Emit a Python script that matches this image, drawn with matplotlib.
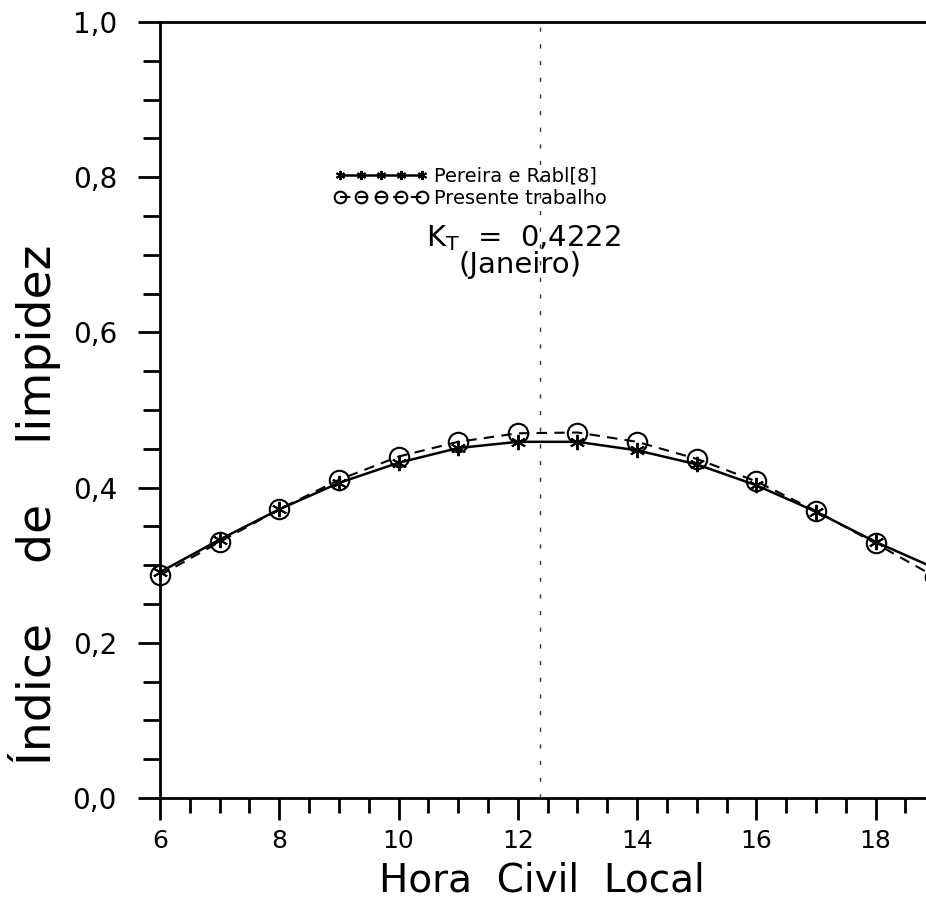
import matplotlib
matplotlib.use('Agg')
import matplotlib.pyplot as plt
from matplotlib.ticker import MultipleLocator, FuncFormatter

# hours (19 is just past the right edge of the picture)
hours = [6, 7, 8, 9, 10, 11, 12, 13, 14, 15, 16, 17, 18, 19]
pereira_rabl = [0.291, 0.333, 0.372, 0.406, 0.432, 0.451, 0.459,
                0.459, 0.448, 0.430, 0.403, 0.369, 0.330, 0.296]
presente = [0.287, 0.330, 0.372, 0.410, 0.440, 0.459, 0.470,
            0.471, 0.459, 0.437, 0.408, 0.370, 0.328, 0.285]

label_pr = 'Pereira e Rabl[8]'
label_pt = 'Presente trabalho'
kt_text = r'K$_\mathregular{T}$  =  0,4222'
month = '(Janeiro)'

plt.rcParams['font.family'] = ['DejaVu Sans']
plt.rcParams['mathtext.default'] = 'regular'

fig = plt.figure(figsize=(9.26, 9.0), dpi=100)
ax = fig.add_axes([160 / 926, 1 - 798 / 900, 1 - 160 / 926, 776 / 900])

ax.plot(hours, pereira_rabl, color='black', lw=1.8, marker=(6, 2, 0),
        ms=11, mew=1.4, label=label_pr, clip_on=False)
ax.plot(hours, presente, color='black', lw=1.5, ls=(0, (5, 3.5)),
        marker='o', ms=14, mfc='none', mew=1.5, label=label_pt, clip_on=False)

# fold mark from the scanned page
ax.axvline(12.37, color='0.2', lw=1.0, ls=(0, (3, 9)))

ax.set_xlim(6, 6 + (926 - 161.7) / 59.5)
ax.set_ylim(0, 1.0)

ax.xaxis.set_major_locator(MultipleLocator(2))
ax.xaxis.set_minor_locator(MultipleLocator(0.5))
ax.yaxis.set_major_locator(MultipleLocator(0.2))
ax.yaxis.set_minor_locator(MultipleLocator(0.05))
ax.yaxis.set_major_formatter(FuncFormatter(lambda v, p: f'{v:.1f}'.replace('.', ',')))

ax.tick_params(which='both', direction='out', width=2, color='black')
ax.tick_params(axis='y', which='major', length=16, pad=15, labelsize=20)
ax.tick_params(axis='y', which='minor', length=12)
ax.tick_params(axis='x', which='major', length=16, pad=6, labelsize=18)
ax.tick_params(axis='x', which='minor', length=11)

for s in ['left', 'bottom', 'top']:
    ax.spines[s].set_linewidth(2)
ax.spines['right'].set_visible(False)

ax.set_xlabel('Hora  Civil  Local', fontsize=28, va='baseline')
ax.xaxis.set_label_coords(0.499, -0.121)
ax.set_ylabel('Índice    de    limpidez', fontsize=34, va='baseline')
ax.yaxis.set_label_coords(-0.142, 0.378)

ax.legend(loc='upper left', bbox_to_anchor=(0.215, 0.826), frameon=False,
          numpoints=5, markerscale=0.6, handlelength=4.8, handletextpad=0.3,
          labelspacing=0.15, fontsize=14, borderpad=0)

ax.text(0.474, (798 - 246) / 776, kt_text, transform=ax.transAxes,
        ha='center', va='baseline', fontsize=21)
ax.text(0.47, (798 - 273) / 776, month, transform=ax.transAxes,
        ha='center', va='baseline', fontsize=21)

plt.savefig('out.png', dpi=100)
